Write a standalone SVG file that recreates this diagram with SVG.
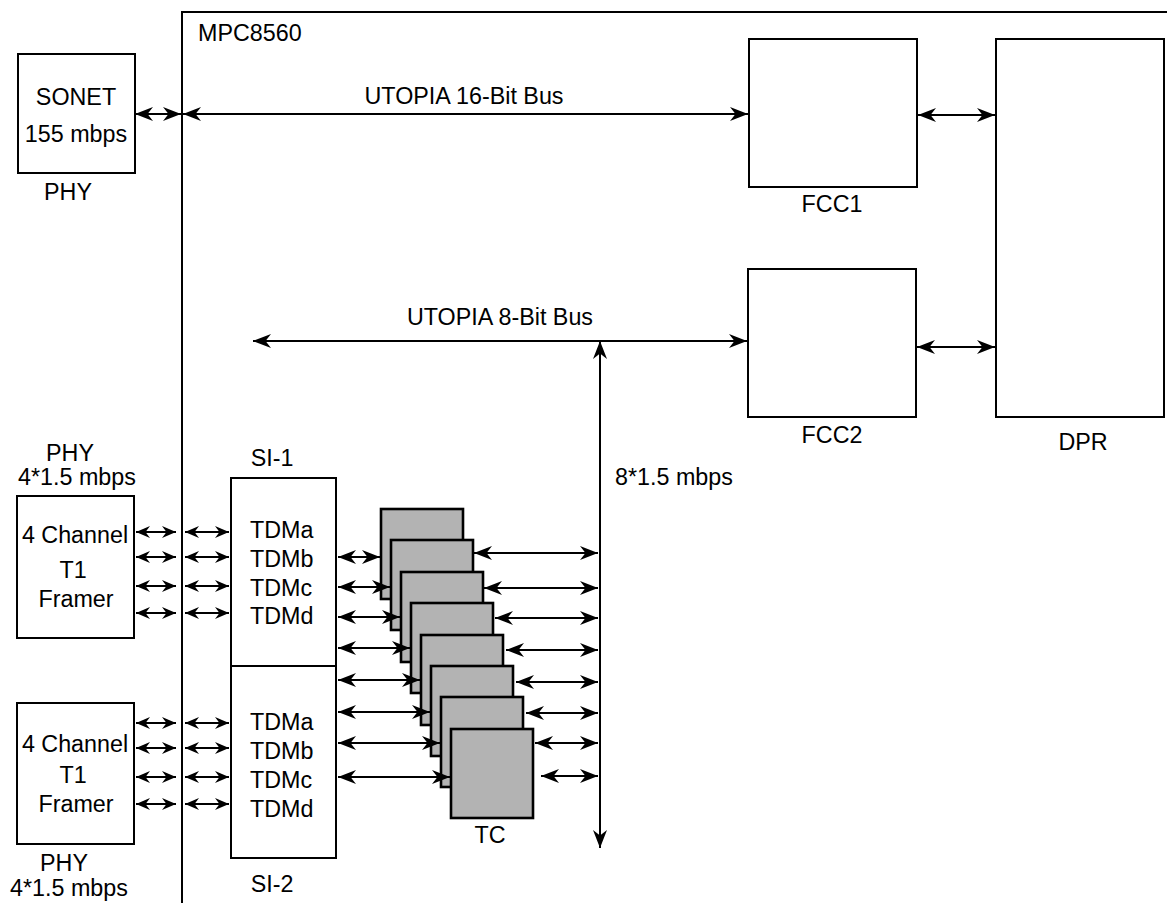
<svg xmlns="http://www.w3.org/2000/svg" width="1167" height="903" viewBox="0 0 1167 903">
<style>
text{font-family:"Liberation Sans",Arial,sans-serif;font-size:23.3px;fill:#000}
.c{text-anchor:middle}
.box{fill:#fff;stroke:#000;stroke-width:2}
.tc{fill:#b3b3b3;stroke:#000;stroke-width:2.6}
.ln{fill:none;stroke:#000;stroke-width:2}
.a2{marker-start:url(#ah);marker-end:url(#ah)}
.s2{marker-start:url(#as);marker-end:url(#as)}
</style>
<defs>
<marker id="ah" viewBox="0 0 18 14" refX="18" refY="7" markerWidth="18" markerHeight="14" markerUnits="userSpaceOnUse" orient="auto-start-reverse"><path d="M0,0 L18,7 L0,14 L5.5,7 z" fill="#000"/></marker>
<marker id="as" viewBox="0 0 14 12" refX="14" refY="6" markerWidth="14" markerHeight="12" markerUnits="userSpaceOnUse" orient="auto-start-reverse"><path d="M0,0 L14,6 L0,12 L4.5,6 z" fill="#000"/></marker>
</defs>
<g id="mpc8560"><path class="ln" d="M182,903 V12 H1167"/><text x="198" y="41">MPC8560</text></g>
<g id="sonet"><rect class="box" x="18" y="54" width="117" height="119"/><text class="c" x="76" y="105">SONET</text><text class="c" x="76" y="142">155 mbps</text><text class="c" x="68" y="200">PHY</text></g>
<g id="fcc1"><rect class="box" x="749" y="39" width="168" height="148"/><text class="c" x="832" y="212">FCC1</text></g>
<g id="fcc2"><rect class="box" x="748" y="269" width="168" height="148"/><text class="c" x="832" y="443">FCC2</text></g>
<g id="dpr"><rect class="box" x="996" y="39" width="168" height="378"/><text class="c" x="1083" y="450">DPR</text></g>
<g id="framer1"><text class="c" x="70" y="461">PHY</text><text class="c" x="77" y="485">4*1.5 mbps</text><rect class="box" x="17" y="496" width="117" height="142"/><text class="c" x="75" y="543">4 Channel</text><text class="c" x="73" y="578">T1</text><text class="c" x="76" y="607">Framer</text></g>
<g id="framer2"><rect class="box" x="17" y="703" width="117" height="141"/><text class="c" x="75" y="752">4 Channel</text><text class="c" x="73" y="783">T1</text><text class="c" x="76" y="812">Framer</text><text class="c" x="64" y="871">PHY</text><text class="c" x="69" y="896">4*1.5 mbps</text></g>
<g id="si1"><text class="c" x="272" y="466">SI-1</text><rect class="box" x="231" y="478" width="105" height="188"/><text x="250" y="538">TDMa</text><text x="250" y="567">TDMb</text><text x="250" y="596">TDMc</text><text x="250" y="624">TDMd</text></g>
<g id="si2"><rect class="box" x="231" y="666" width="105" height="192"/><text x="250" y="730">TDMa</text><text x="250" y="759">TDMb</text><text x="250" y="788">TDMc</text><text x="250" y="817">TDMd</text><text class="c" x="272" y="892">SI-2</text></g>
<g id="tc">
<rect class="tc" x="381" y="509" width="82" height="90"/>
<rect class="tc" x="391" y="540" width="82" height="90"/>
<rect class="tc" x="401" y="572" width="82" height="90"/>
<rect class="tc" x="411" y="603" width="82" height="90"/>
<rect class="tc" x="421" y="635" width="82" height="90"/>
<rect class="tc" x="431" y="666" width="82" height="90"/>
<rect class="tc" x="441" y="697" width="82" height="90"/>
<rect class="tc" x="451" y="729" width="82" height="89"/>
<text class="c" x="490" y="843">TC</text>
</g>
<text x="615" y="485">8*1.5 mbps</text>
<text class="c" x="464" y="104">UTOPIA 16-Bit Bus</text>
<text class="c" x="500" y="325">UTOPIA 8-Bit Bus</text>
<g id="connectors">
<path class="ln a2" d="M135,114 H181"/>
<path class="ln a2" d="M183,114 H748"/>
<path class="ln a2" d="M918,115 H995"/>
<path class="ln a2" d="M917,347 H995"/>
<path class="ln a2" d="M253,341 H747"/>
<path class="ln a2" d="M600,341 V848"/>
<path class="ln s2" d="M136,532 H176"/><path class="ln s2" d="M185,532 H229"/>
<path class="ln s2" d="M136,557 H176"/><path class="ln s2" d="M185,557 H229"/>
<path class="ln s2" d="M136,586 H176"/><path class="ln s2" d="M185,586 H229"/>
<path class="ln s2" d="M136,613 H176"/><path class="ln s2" d="M185,613 H229"/>
<path class="ln s2" d="M136,723 H176"/><path class="ln s2" d="M185,723 H229"/>
<path class="ln s2" d="M136,748 H176"/><path class="ln s2" d="M185,748 H229"/>
<path class="ln s2" d="M136,777 H176"/><path class="ln s2" d="M185,777 H229"/>
<path class="ln s2" d="M136,804 H176"/><path class="ln s2" d="M185,804 H229"/>
<path class="ln a2" d="M338,557 H380"/>
<path class="ln a2" d="M338,587 H390"/>
<path class="ln a2" d="M338,617 H400"/>
<path class="ln a2" d="M338,648 H410"/>
<path class="ln a2" d="M338,680 H420"/>
<path class="ln a2" d="M338,712 H430"/>
<path class="ln a2" d="M338,743 H440"/>
<path class="ln a2" d="M338,777 H450"/>
<path class="ln a2" d="M474,553 H598"/>
<path class="ln a2" d="M484,588 H598"/>
<path class="ln a2" d="M495,618 H598"/>
<path class="ln a2" d="M506,650 H598"/>
<path class="ln a2" d="M516,682 H598"/>
<path class="ln a2" d="M526,713 H598"/>
<path class="ln a2" d="M535,743 H598"/>
<path class="ln a2" d="M541,776 H598"/>
</g>
</svg>
